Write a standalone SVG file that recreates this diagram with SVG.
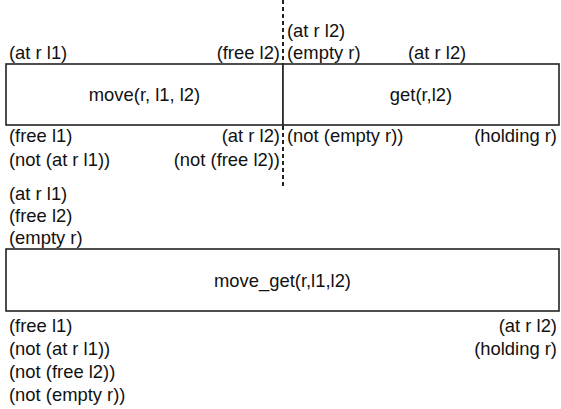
<svg xmlns="http://www.w3.org/2000/svg" width="561" height="409" viewBox="0 0 561 409">
<style>
  text { font-family: "Liberation Sans", Arial, sans-serif; font-size: 18.4px; fill: #111; }
  .box { fill: #fff; stroke: #222; stroke-width: 1.6; }
  .mid { text-anchor: middle; }
  .end { text-anchor: end; }
  .sep { stroke: #222; stroke-width: 2; stroke-dasharray: 4 3; fill: none; }
</style>
<rect width="561" height="409" fill="#fff"/>
<g id="connectors">
  <line class="sep" x1="283" y1="0" x2="283" y2="188"/>
</g>
<g id="move">
  <rect class="box" x="6" y="64" width="277" height="61"/>
  <text class="mid" x="144.5" y="101">move(r, l1, l2)</text>
  <text x="9" y="59">(at r l1)</text>
  <text class="end" x="280" y="59">(free l2)</text>
  <text x="9" y="142">(free l1)</text>
  <text x="9" y="165.5">(not (at r l1))</text>
  <text class="end" x="280" y="142">(at r l2)</text>
  <text class="end" x="280" y="165.5">(not (free l2))</text>
</g>
<g id="get">
  <rect class="box" x="283" y="64" width="276" height="61"/>
  <text class="mid" x="421" y="101">get(r,l2)</text>
  <text x="287" y="37">(at r l2)</text>
  <text x="287" y="59">(empty r)</text>
  <text x="408" y="59">(at r l2)</text>
  <text x="287" y="142">(not (empty r))</text>
  <text class="end" x="557" y="142">(holding r)</text>
</g>
<g id="move_get">
  <rect class="box" x="6" y="249" width="553" height="62"/>
  <text class="mid" x="282.5" y="286.5">move_get(r,l1,l2)</text>
  <text x="9" y="199.5">(at r l1)</text>
  <text x="9" y="221.5">(free l2)</text>
  <text x="9" y="243.5">(empty r)</text>
  <text x="9" y="332">(free l1)</text>
  <text x="9" y="355">(not (at r l1))</text>
  <text x="9" y="378">(not (free l2))</text>
  <text x="9" y="401">(not (empty r))</text>
  <text class="end" x="557" y="332">(at r l2)</text>
  <text class="end" x="557" y="355">(holding r)</text>
</g>
</svg>
